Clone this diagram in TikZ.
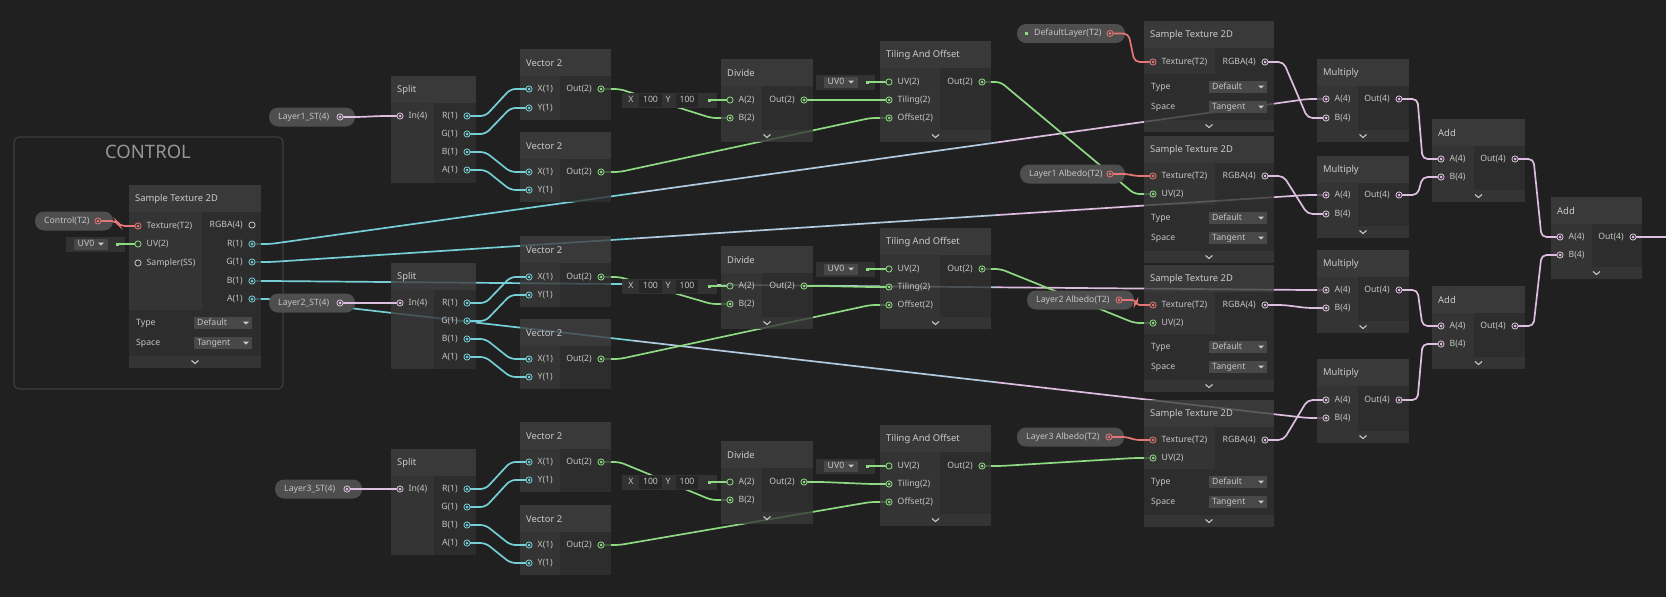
\documentclass[tikz,border=0pt]{standalone}
\usepackage{fontspec}
\setmainfont{Noto Sans}
\usetikzlibrary{calc}

\definecolor{canvas}{RGB}{32,32,32}
\definecolor{grpline}{RGB}{62,62,62}
\definecolor{grptxt}{RGB}{150,150,150}
\definecolor{hdrbg}{RGB}{64,64,64}
\definecolor{inbg}{RGB}{58,58,58}
\definecolor{outbg}{RGB}{49,49,49}
\definecolor{footbg}{RGB}{57,57,57}
\definecolor{ddbg}{RGB}{72,72,72}
\definecolor{selbg}{RGB}{50,50,50}
\definecolor{valbg}{RGB}{38,38,38}
\definecolor{pillbg}{RGB}{78,78,78}
\definecolor{txt}{RGB}{196,196,196}
\definecolor{ttltxt}{RGB}{202,202,202}
\definecolor{idle}{RGB}{200,200,200}
\definecolor{flt}{RGB}{118,206,214}
\definecolor{vectwo}{RGB}{142,218,130}
\definecolor{vecfour}{RGB}{222,190,224}
\definecolor{tex}{RGB}{228,118,118}
\definecolor{mixc}{RGB}{178,202,224}

\pgfdeclarelayer{back}
\pgfdeclarelayer{under}
\pgfsetlayers{back,under,main}

\newcommand{\lblfont}{\fontsize{8.7}{10}\selectfont}
\newcommand{\ttlfont}{\fontsize{9.4}{11}\selectfont}

\tikzset{
  wire/.style={line width=1.7pt, rounded corners=5pt, line cap=round},
  port/.style={circle, draw=#1, line width=0.8pt, minimum size=6.2pt, inner sep=0pt,
    path picture={\fill[#1] (path picture bounding box.center) circle (1.5pt);}},
  hport/.style={circle, draw=#1, line width=0.8pt, minimum size=6.2pt, inner sep=0pt},
  valdot/.style={fill=#1, minimum size=3pt, inner sep=0pt},
  lbl/.style={text=txt, font=\lblfont, inner sep=0pt, text height=6.4pt, text depth=1.6pt},
  ttl/.style={text=ttltxt, font=\ttlfont, inner sep=0pt, anchor=west},
  chev/.style={draw=idle, line width=1.1pt},
  body/.style={fill opacity=0.8},
}

% name, left, top, width, divider, ports bottom, title
\newcommand{\gnode}[7]{%
  \fill[hdrbg, body] (#2,#3) rectangle (#2+#4,#3+27);
  \fill[inbg, body] (#2,#3+27) rectangle (#2+#5,#6);
  \fill[outbg, body] (#2+#5,#3+27) rectangle (#2+#4,#6);
  \node[ttl] (#1) at (#2+6,#3+14) {#7};}
% left, top, width
\newcommand{\gfoot}[3]{%
  \fill[footbg, body] (#1,#2) rectangle (#1+#3,#2+12);
  \draw[chev] (#1+#3/2-3.5,#2+4.5) -- (#1+#3/2,#2+7.5) -- (#1+#3/2+3.5,#2+4.5);}
% name, left, y, text
\newcommand{\dropdown}[4]{%
  \fill[ddbg] (#2,#3-6) rectangle (#2+58,#3+6);
  \node[lbl, anchor=west] (#1) at (#2+3,#3) {#4};
  \fill[idle] (#2+49,#3-1.5) -- (#2+55,#3-1.5) -- (#2+52,#3+1.5) -- cycle;}
% name, left, top, width
\newcommand{\gctrl}[4]{%
  \fill[outbg, body] (#2,#3) rectangle (#2+#4,#3+46);
  \node[lbl, anchor=west] (#1-type) at (#2+7,#3+13) {Type};
  \node[lbl, anchor=west] (#1-space) at (#2+7,#3+33) {Space};
  \dropdown{#1-dflt}{#2+65}{#3+13}{Default}
  \dropdown{#1-tan}{#2+65}{#3+33}{Tangent}
  \gfoot{#2}{#3+46}{#4}}
% style, name, x, y, label
\newcommand{\inport}[5]{%
  \node[#1] (#2) at (#3,#4) {};
  \node[lbl, anchor=west] (#2-l) at (#3+8.5,#4) {#5};}
\newcommand{\outport}[5]{%
  \node[#1] (#2) at (#3,#4) {};
  \node[lbl, anchor=east] (#2-l) at (#3-9,#4) {#5};}
% name, left, right, y, label, colour
\newcommand{\propnode}[6]{%
  \fill[pillbg, rounded corners=9pt] (#2,#4-9.5) rectangle (#3,#4+9.5);
  \node[lbl, anchor=west] (#1-l) at (#2+9,#4) {#5};
  \node[port=#6] (#1) at (#3-15,#4) {};}
% name, left, y
\newcommand{\uvsel}[3]{%
  \fill[selbg] (#2,#3-7.5) rectangle (#2+59,#3+7.5);
  \fill[ddbg] (#2+8,#3-5.5) rectangle (#2+42,#3+5.5);
  \node[lbl, anchor=west] (#1-l) at (#2+11.5,#3) {UV0};
  \fill[idle] (#2+32,#3-1.5) -- (#2+38,#3-1.5) -- (#2+35,#3+1.5) -- cycle;
  \node[valdot=vectwo] (#1) at (#2+51.5,#3) {};}
\newcommand{\xyfield}[3]{%
  \fill[selbg] (#2,#3-7.5) rectangle (#2+95,#3+7.5);
  \fill[valbg] (#2+17,#3-6.5) rectangle (#2+40,#3+6.5);
  \fill[valbg] (#2+54,#3-6.5) rectangle (#2+76,#3+6.5);
  \node[lbl] (#1-x) at (#2+9,#3) {X};
  \node[lbl] (#1-xv) at (#2+28.5,#3) {100};
  \node[lbl] (#1-y) at (#2+46,#3) {Y};
  \node[lbl] (#1-yv) at (#2+65,#3) {100};
  \node[valdot=vectwo] (#1) at (#2+87,#3) {};}
% colour, from, to
\newcommand{\wire}[3]{%
  \draw[wire,#1] (#2.east) -- ++(15,0) -- ([xshift=-15pt]#3.west) -- (#3.west);}
\newcommand{\gwire}[2]{%
  \draw[wire,flt] (#1.east) -- ++(15,0) -- ($([xshift=15pt]#1.east)!0.35!([xshift=-15pt]#2.west)$);
  \draw[wire,mixc] ($([xshift=15pt]#1.east)!0.35!([xshift=-15pt]#2.west)$) -- ($([xshift=15pt]#1.east)!0.7!([xshift=-15pt]#2.west)$);
  \draw[wire,vecfour] ($([xshift=15pt]#1.east)!0.7!([xshift=-15pt]#2.west)$) -- ([xshift=-15pt]#2.west) -- (#2.west);}

\begin{document}
\begin{tikzpicture}[x=1pt, y=-1pt]
  \useasboundingbox (0,0) rectangle (1666,597);
  \begin{pgfonlayer}{back}
    \fill[canvas] (0,0) rectangle (1666,597);
    \draw[grpline, line width=1.2pt, rounded corners=5pt] (14,137) rectangle (283,389);
  \end{pgfonlayer}
  \node[text=grptxt, font=\fontsize{18.5}{20}\selectfont, inner sep=0pt] (grp) at (148,152) {CONTROL};

  % control texture
  \gnode{ctrl}{129}{185}{132}{73}{310}{Sample Texture 2D}
  \gctrl{ctrl}{129}{310}{132}
  \inport{port=tex}{ctex}{138}{226}{Texture(T2)}
  \inport{hport=vectwo}{cuv}{138}{244}{UV(2)}
  \inport{hport=idle}{css}{138}{263}{Sampler(SS)}
  \outport{hport=idle}{crgba}{252}{225}{RGBA(4)}
  \outport{port=flt}{cr}{252}{244}{R(1)}
  \outport{port=flt}{cg}{252}{262}{G(1)}
  \outport{port=flt}{cb}{252}{281}{B(1)}
  \outport{port=flt}{ca}{252}{299}{A(1)}
  \propnode{cpill}{35}{113}{221}{Control(T2)}{tex}
  \uvsel{cuvsel}{66}{244}

  % layer 1
  \propnode{lst1}{269}{355}{117}{Layer1\_ST(4)}{vecfour}
  \gnode{sp1}{391}{76}{85}{43}{183}{Split}
  \inport{port=vecfour}{sp1-in}{400}{116}{In(4)}
  \outport{port=flt}{sp1-r}{467}{116}{R(1)}
  \outport{port=flt}{sp1-g}{467}{134}{G(1)}
  \outport{port=flt}{sp1-b}{467}{152}{B(1)}
  \outport{port=flt}{sp1-a}{467}{170}{A(1)}
  \gnode{va1}{520}{49}{91}{40}{120}{Vector 2}
  \inport{port=flt}{va1-x}{529}{89}{X(1)}
  \inport{port=flt}{va1-y}{529}{108}{Y(1)}
  \outport{port=vectwo}{va1-o}{601}{89}{Out(2)}
  \gnode{vb1}{520}{132}{91}{40}{202}{Vector 2}
  \inport{port=flt}{vb1-x}{529}{172}{X(1)}
  \inport{port=flt}{vb1-y}{529}{190}{Y(1)}
  \outport{port=vectwo}{vb1-o}{601}{172}{Out(2)}
  \xyfield{xy1}{622}{100}
  \gnode{dv1}{721}{59}{92}{41}{130}{Divide}
  \gfoot{721}{130}{92}
  \inport{hport=vectwo}{dv1-a}{730}{100}{A(2)}
  \inport{port=vectwo}{dv1-b}{730}{118}{B(2)}
  \outport{port=vectwo}{dv1-o}{804}{100}{Out(2)}
  \uvsel{uv1}{816}{82}
  \gnode{to1}{880}{41}{111}{60}{130}{Tiling And Offset}
  \gfoot{880}{130}{111}
  \inport{hport=vectwo}{to1-uv}{889}{82}{UV(2)}
  \inport{port=vectwo}{to1-t}{889}{100}{Tiling(2)}
  \inport{port=vectwo}{to1-of}{889}{118}{Offset(2)}
  \outport{port=vectwo}{to1-o}{982}{82}{Out(2)}

  % layer 2
  \propnode{lst2}{269}{355}{303}{Layer2\_ST(4)}{vecfour}
  \gnode{sp2}{391}{263}{85}{43}{369}{Split}
  \inport{port=vecfour}{sp2-in}{400}{303}{In(4)}
  \outport{port=flt}{sp2-r}{467}{303}{R(1)}
  \outport{port=flt}{sp2-g}{467}{321}{G(1)}
  \outport{port=flt}{sp2-b}{467}{339}{B(1)}
  \outport{port=flt}{sp2-a}{467}{357}{A(1)}
  \gnode{va2}{520}{236}{91}{40}{307}{Vector 2}
  \inport{port=flt}{va2-x}{529}{277}{X(1)}
  \inport{port=flt}{va2-y}{529}{295}{Y(1)}
  \outport{port=vectwo}{va2-o}{601}{277}{Out(2)}
  \gnode{vb2}{520}{319}{91}{40}{389}{Vector 2}
  \inport{port=flt}{vb2-x}{529}{359}{X(1)}
  \inport{port=flt}{vb2-y}{529}{377}{Y(1)}
  \outport{port=vectwo}{vb2-o}{601}{359}{Out(2)}
  \xyfield{xy2}{622}{286}
  \gnode{dv2}{721}{246}{92}{41}{317}{Divide}
  \gfoot{721}{317}{92}
  \inport{hport=vectwo}{dv2-a}{730}{286}{A(2)}
  \inport{port=vectwo}{dv2-b}{730}{304}{B(2)}
  \outport{port=vectwo}{dv2-o}{804}{286}{Out(2)}
  \uvsel{uv2}{816}{269}
  \gnode{to2}{880}{228}{111}{60}{317}{Tiling And Offset}
  \gfoot{880}{317}{111}
  \inport{hport=vectwo}{to2-uv}{889}{269}{UV(2)}
  \inport{port=vectwo}{to2-t}{889}{287}{Tiling(2)}
  \inport{port=vectwo}{to2-of}{889}{305}{Offset(2)}
  \outport{port=vectwo}{to2-o}{982}{269}{Out(2)}

  % layer 3
  \propnode{lst3}{275}{362}{489}{Layer3\_ST(4)}{vecfour}
  \gnode{sp3}{391}{449}{85}{43}{555}{Split}
  \inport{port=vecfour}{sp3-in}{400}{489}{In(4)}
  \outport{port=flt}{sp3-r}{467}{489}{R(1)}
  \outport{port=flt}{sp3-g}{467}{507}{G(1)}
  \outport{port=flt}{sp3-b}{467}{525}{B(1)}
  \outport{port=flt}{sp3-a}{467}{543}{A(1)}
  \gnode{va3}{520}{422}{91}{40}{492}{Vector 2}
  \inport{port=flt}{va3-x}{529}{462}{X(1)}
  \inport{port=flt}{va3-y}{529}{480}{Y(1)}
  \outport{port=vectwo}{va3-o}{601}{462}{Out(2)}
  \gnode{vb3}{520}{505}{91}{40}{575}{Vector 2}
  \inport{port=flt}{vb3-x}{529}{545}{X(1)}
  \inport{port=flt}{vb3-y}{529}{563}{Y(1)}
  \outport{port=vectwo}{vb3-o}{601}{545}{Out(2)}
  \xyfield{xy3}{622}{482}
  \gnode{dv3}{721}{441}{92}{41}{512}{Divide}
  \gfoot{721}{512}{92}
  \inport{hport=vectwo}{dv3-a}{730}{482}{A(2)}
  \inport{port=vectwo}{dv3-b}{730}{500}{B(2)}
  \outport{port=vectwo}{dv3-o}{804}{482}{Out(2)}
  \uvsel{uv3}{816}{466}
  \gnode{to3}{880}{425}{111}{60}{514}{Tiling And Offset}
  \gfoot{880}{514}{111}
  \inport{hport=vectwo}{to3-uv}{889}{466}{UV(2)}
  \inport{port=vectwo}{to3-t}{889}{484}{Tiling(2)}
  \inport{port=vectwo}{to3-of}{889}{502}{Offset(2)}
  \outport{port=vectwo}{to3-o}{982}{466}{Out(2)}

  % albedo textures
  \gnode{tx1}{1144}{21}{130}{71}{74}{Sample Texture 2D}
  \gctrl{tx1}{1144}{74}{130}
  \inport{port=tex}{tx1-t}{1153}{62}{Texture(T2)}
  \outport{port=vecfour}{tx1-o}{1265}{62}{RGBA(4)}
  \gnode{tx2}{1144}{136}{130}{71}{205}{Sample Texture 2D}
  \gctrl{tx2}{1144}{205}{130}
  \inport{port=tex}{tx2-t}{1153}{176}{Texture(T2)}
  \inport{port=vectwo}{tx2-uv}{1153}{194}{UV(2)}
  \outport{port=vecfour}{tx2-o}{1265}{176}{RGBA(4)}
  \gnode{tx3}{1144}{265}{130}{71}{334}{Sample Texture 2D}
  \gctrl{tx3}{1144}{334}{130}
  \inport{port=tex}{tx3-t}{1153}{305}{Texture(T2)}
  \inport{port=vectwo}{tx3-uv}{1153}{323}{UV(2)}
  \outport{port=vecfour}{tx3-o}{1265}{305}{RGBA(4)}
  \gnode{tx4}{1144}{400}{130}{71}{469}{Sample Texture 2D}
  \gctrl{tx4}{1144}{469}{130}
  \inport{port=tex}{tx4-t}{1153}{440}{Texture(T2)}
  \inport{port=vectwo}{tx4-uv}{1153}{458}{UV(2)}
  \outport{port=vecfour}{tx4-o}{1265}{440}{RGBA(4)}

  \fill[pillbg, rounded corners=9pt] (1017,24) rectangle (1125,43);
  \node[valdot=vectwo] (dflt-on) at (1026,33.5) {};
  \node[lbl, anchor=west] (dflt-l) at (1034,33.5) {DefaultLayer(T2)};
  \node[port=tex] (dflt) at (1110,33.5) {};
  \propnode{alb1}{1020}{1125}{174}{Layer1 Albedo(T2)}{tex}
  \propnode{alb2}{1027}{1134}{300}{Layer2 Albedo(T2)}{tex}
  \propnode{alb3}{1017}{1124}{437}{Layer3 Albedo(T2)}{tex}

  % blend
  \gnode{mu1}{1317}{59}{92}{41}{130}{Multiply}
  \gfoot{1317}{130}{92}
  \inport{port=vecfour}{mu1-a}{1326}{99}{A(4)}
  \inport{port=vecfour}{mu1-b}{1326}{118}{B(4)}
  \outport{port=vecfour}{mu1-o}{1399}{99}{Out(4)}
  \gnode{mu2}{1317}{156}{92}{41}{226}{Multiply}
  \gfoot{1317}{226}{92}
  \inport{port=vecfour}{mu2-a}{1326}{195}{A(4)}
  \inport{port=vecfour}{mu2-b}{1326}{214}{B(4)}
  \outport{port=vecfour}{mu2-o}{1399}{195}{Out(4)}
  \gnode{mu3}{1317}{250}{92}{41}{321}{Multiply}
  \gfoot{1317}{321}{92}
  \inport{port=vecfour}{mu3-a}{1326}{290}{A(4)}
  \inport{port=vecfour}{mu3-b}{1326}{308}{B(4)}
  \outport{port=vecfour}{mu3-o}{1399}{290}{Out(4)}
  \gnode{mu4}{1317}{359}{92}{41}{431}{Multiply}
  \gfoot{1317}{431}{92}
  \inport{port=vecfour}{mu4-a}{1326}{400}{A(4)}
  \inport{port=vecfour}{mu4-b}{1326}{418}{B(4)}
  \outport{port=vecfour}{mu4-o}{1399}{400}{Out(4)}
  \gnode{ad1}{1432}{119}{93}{42}{190}{Add}
  \gfoot{1432}{190}{93}
  \inport{port=vecfour}{ad1-a}{1441}{159}{A(4)}
  \inport{port=vecfour}{ad1-b}{1441}{177}{B(4)}
  \outport{port=vecfour}{ad1-o}{1515}{159}{Out(4)}
  \gnode{ad2}{1432}{286}{93}{42}{357}{Add}
  \gfoot{1432}{357}{93}
  \inport{port=vecfour}{ad2-a}{1441}{326}{A(4)}
  \inport{port=vecfour}{ad2-b}{1441}{344}{B(4)}
  \outport{port=vecfour}{ad2-o}{1515}{326}{Out(4)}
  \gnode{ad3}{1551}{197}{91}{41}{267}{Add}
  \gfoot{1551}{267}{91}
  \inport{port=vecfour}{ad3-a}{1560}{237}{A(4)}
  \inport{port=vecfour}{ad3-b}{1560}{255}{B(4)}
  \outport{port=vecfour}{ad3-o}{1633}{237}{Out(4)}
  \coordinate (outend) at (1666,237);

  % wires running behind nodes
  \begin{pgfonlayer}{under}
    \gwire{cr}{mu1-a}
    \gwire{cg}{mu2-a}
    \gwire{cb}{mu3-a}
    \gwire{ca}{mu4-b}
    \wire{vectwo}{va1-o}{dv1-b}
    \wire{vectwo}{va2-o}{dv2-b}
    \wire{vectwo}{va3-o}{dv3-b}
    \wire{vectwo}{vb1-o}{to1-of}
    \wire{vectwo}{vb2-o}{to2-of}
    \wire{vectwo}{vb3-o}{to3-of}
    \wire{vectwo}{to1-o}{tx2-uv}
    \wire{vectwo}{to2-o}{tx3-uv}
    \wire{vectwo}{to3-o}{tx4-uv}
  \end{pgfonlayer}

  \wire{tex}{cpill}{ctex}
  \draw[wire,vectwo] (cuvsel) -- (cuv.west);
  \wire{vecfour}{lst1}{sp1-in}
  \wire{vecfour}{lst2}{sp2-in}
  \wire{vecfour}{lst3}{sp3-in}
  \wire{flt}{sp1-r}{va1-x}
  \wire{flt}{sp1-g}{va1-y}
  \wire{flt}{sp1-b}{vb1-x}
  \wire{flt}{sp1-a}{vb1-y}
  \wire{flt}{sp2-r}{va2-x}
  \wire{flt}{sp2-g}{va2-y}
  \wire{flt}{sp2-b}{vb2-x}
  \wire{flt}{sp2-a}{vb2-y}
  \wire{flt}{sp3-r}{va3-x}
  \wire{flt}{sp3-g}{va3-y}
  \wire{flt}{sp3-b}{vb3-x}
  \wire{flt}{sp3-a}{vb3-y}
  \draw[wire,vectwo] (xy1) -- (dv1-a.west);
  \draw[wire,vectwo] (xy2) -- (dv2-a.west);
  \draw[wire,vectwo] (xy3) -- (dv3-a.west);
  \draw[wire,vectwo] (uv1) -- (to1-uv.west);
  \draw[wire,vectwo] (uv2) -- (to2-uv.west);
  \draw[wire,vectwo] (uv3) -- (to3-uv.west);
  \wire{vectwo}{dv1-o}{to1-t}
  \wire{vectwo}{dv2-o}{to2-t}
  \wire{vectwo}{dv3-o}{to3-t}
  \wire{tex}{dflt}{tx1-t}
  \wire{tex}{alb1}{tx2-t}
  \wire{tex}{alb2}{tx3-t}
  \wire{tex}{alb3}{tx4-t}
  \wire{vecfour}{tx1-o}{mu1-b}
  \wire{vecfour}{tx2-o}{mu2-b}
  \wire{vecfour}{tx3-o}{mu3-b}
  \wire{vecfour}{tx4-o}{mu4-a}
  \wire{vecfour}{mu1-o}{ad1-a}
  \wire{vecfour}{mu2-o}{ad1-b}
  \wire{vecfour}{mu3-o}{ad2-a}
  \wire{vecfour}{mu4-o}{ad2-b}
  \wire{vecfour}{ad1-o}{ad3-a}
  \wire{vecfour}{ad2-o}{ad3-b}
  \draw[wire,vecfour] (ad3-o.east) -- (outend);
\end{tikzpicture}
\end{document}
